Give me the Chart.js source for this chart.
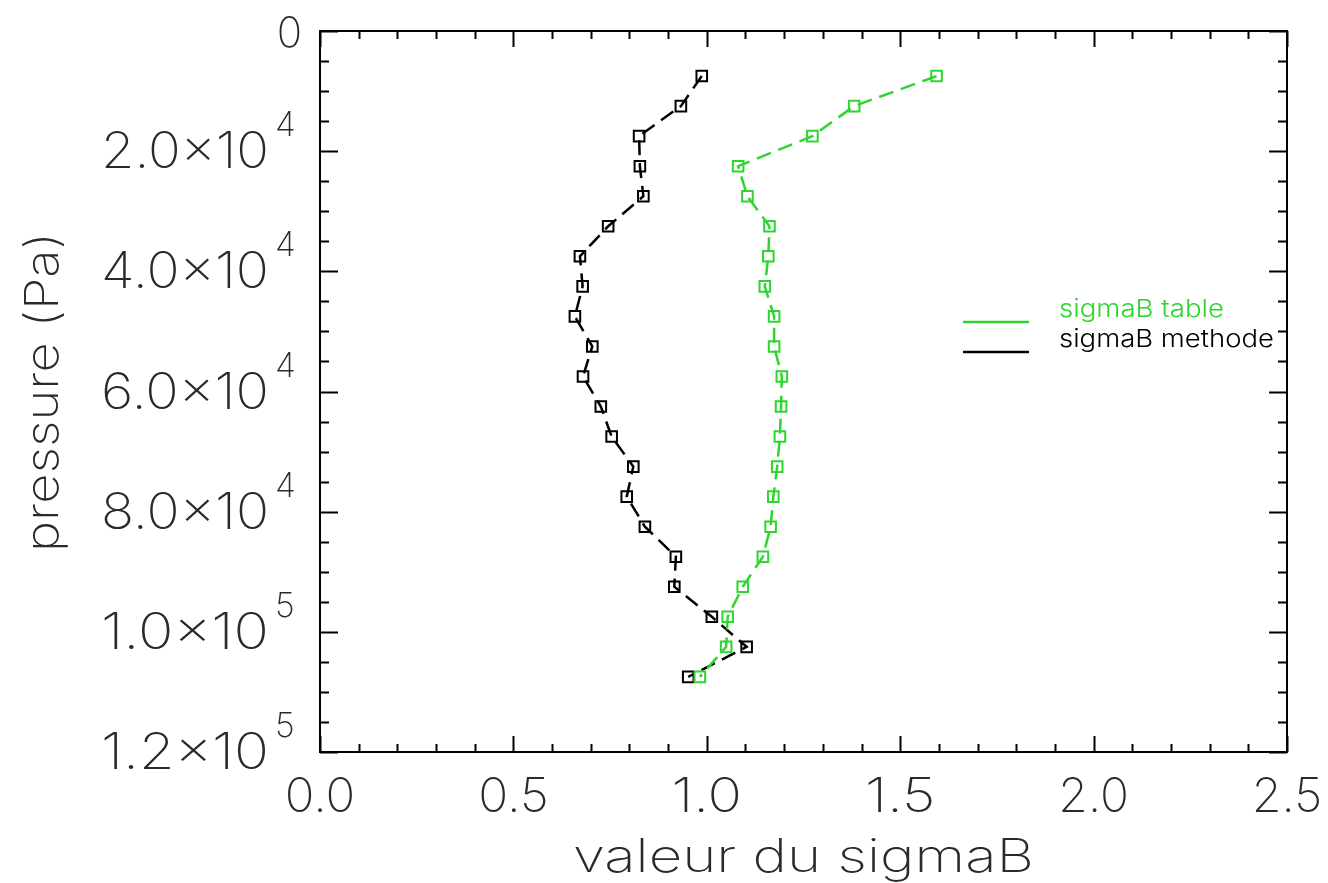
<!DOCTYPE html>
<html lang="fr">
<head>
    <meta charset="UTF-8">
    <title>valeur du sigmaB</title>
    <script src="https://cdn.jsdelivr.net/npm/chart.js@4.4.1/dist/chart.umd.min.js"></script>
    <style>
        body { margin: 0; background: #fff; }
        #wrap { width: 1328px; height: 883px; }
    </style>
</head>
<body>
<div id="wrap"><canvas id="chart" width="1328" height="883"></canvas></div>

<script>
    // pressure levels (Pa) and the two sigmaB profiles
    const pressure = [7500, 12500, 17500, 22500, 27500, 32500, 37500, 42500, 47500, 52500, 57500,
                      62500, 67500, 72500, 77500, 82500, 87500, 92500, 97500, 102500, 107500];
    const sigmaTable = [1.594, 1.381, 1.273, 1.081, 1.105, 1.162, 1.159, 1.150, 1.174, 1.174, 1.194,
                        1.192, 1.189, 1.182, 1.172, 1.165, 1.145, 1.093, 1.054, 1.050, 0.982];
    const sigmaMethode = [0.987, 0.933, 0.825, 0.827, 0.836, 0.745, 0.672, 0.679, 0.659, 0.704, 0.680,
                          0.726, 0.754, 0.810, 0.793, 0.840, 0.920, 0.916, 1.013, 1.103, 0.952];

    const seriesNames = ['sigmaB table', 'sigmaB methode'];
    const seriesColors = ['#2fd52f', '#000000'];

    // axes
    const xTicks = [0, 0.5, 1, 1.5, 2, 2.5];
    const xTickLabels = ['0.0', '0.5', '1.0', '1.5', '2.0', '2.5'];
    const yTicks = [0, 20000, 40000, 60000, 80000, 100000, 120000];
    const yTickMant = ['0', '2.0×10', '4.0×10', '6.0×10', '8.0×10', '1.0×10', '1.2×10'];
    const yTickExp = ['', '4', '4', '4', '4', '5', '5'];
    const xMinor = 0.1, yMinor = 5000;

    const FONT = '"Inter", "Lato", "Roboto", sans-serif';

    function drawText(ctx, str, x, y, size, align, width, weight) {
        ctx.font = `${weight || 200} ${size}px ${FONT}`;
        ctx.textAlign = align;
        ctx.textBaseline = 'alphabetic';
        if (width) {
            const w = ctx.measureText(str).width;
            ctx.save();
            ctx.translate(x, y);
            ctx.scale(width / w, 1);
            ctx.fillText(str, 0, 0);
            ctx.restore();
        } else {
            ctx.fillText(str, x, y);
        }
    }

    // frame, inward ticks, labels and legend, all placed with the chart's scales
    const framePlugin = {
        id: 'frame',
        afterDraw(chart) {
            const { ctx, chartArea: a } = chart;
            const xs = chart.scales.x, ys = chart.scales.y;
            ctx.save();
            ctx.strokeStyle = '#000';
            ctx.lineWidth = 2;
            ctx.strokeRect(a.left, a.top, a.right - a.left, a.bottom - a.top);

            ctx.beginPath();
            const nx = Math.round((xs.max - xs.min) / xMinor);
            for (let i = 0; i <= nx; i++) {
                const v = xs.min + i * xMinor;
                const px = Math.round(xs.getPixelForValue(v)) + 0.5;
                const len = i % 5 === 0 ? 16 : 8;
                ctx.moveTo(px, a.bottom); ctx.lineTo(px, a.bottom - len);
                ctx.moveTo(px, a.top); ctx.lineTo(px, a.top + len);
            }
            const ny = Math.round((ys.max - ys.min) / yMinor);
            for (let i = 0; i <= ny; i++) {
                const v = ys.min + i * yMinor;
                const py = Math.round(ys.getPixelForValue(v)) + 0.5;
                const len = i % 4 === 0 ? 18 : 9;
                ctx.moveTo(a.left, py); ctx.lineTo(a.left + len, py);
                ctx.moveTo(a.right, py); ctx.lineTo(a.right - len, py);
            }
            ctx.stroke();

            // tick labels
            ctx.fillStyle = '#2a2a2a';
            xTicks.forEach((v, i) => {
                drawText(ctx, xTickLabels[i], xs.getPixelForValue(v), 812, 48, 'center', xTickLabels[i].length * 23.5);
            });
            yTicks.forEach((v, i) => {
                const py = ys.getPixelForValue(v);
                if (!yTickExp[i]) {
                    drawText(ctx, yTickMant[i], 302, py + 16, 42, 'right');
                } else {
                    drawText(ctx, yTickMant[i], 269, py + 17, 50, 'right', 168);
                    drawText(ctx, yTickExp[i], 275, py - 15, 34, 'left');
                }
            });

            // axis titles
            drawText(ctx, 'valeur du sigmaB', (a.left + a.right) / 2, 872, 46, 'center', 461);
            ctx.save();
            ctx.translate(58, 392);
            ctx.rotate(-Math.PI / 2);
            drawText(ctx, 'pressure (Pa)', 0, 0, 46, 'center', 320);
            ctx.restore();

            // legend
            const legendWidths = [165, 215];
            chart.data.datasets.forEach((ds, i) => {
                const ly = 322 + i * 30;
                ctx.strokeStyle = ds.borderColor;
                ctx.lineWidth = 2.5;
                ctx.beginPath();
                ctx.moveTo(963, ly); ctx.lineTo(1029, ly);
                ctx.stroke();
                ctx.fillStyle = ds.borderColor;
                drawText(ctx, ds.label, 1059, ly - 5, 24, 'left', legendWidths[i], 350);
            });
            ctx.restore();
        }
    };

    function points(values) {
        return values.map((v, i) => ({ x: v, y: pressure[i] }));
    }

    const datasets = [sigmaTable, sigmaMethode].map((vals, i) => ({
        label: seriesNames[i],
        data: points(vals),
        showLine: true,
        borderColor: seriesColors[i],
        borderWidth: 2.5,
        borderDash: [15, 8],
        pointStyle: 'rect',
        pointRadius: 7.5,
        pointBorderWidth: 2,
        pointBorderColor: seriesColors[i],
        pointBackgroundColor: 'rgba(0,0,0,0)',
        tension: 0
    }));

    new Chart(document.getElementById('chart'), {
        type: 'scatter',
        data: { datasets: datasets },
        options: {
            responsive: false,
            animation: false,
            layout: { padding: { left: 320, right: 41, top: 31, bottom: 131 } },
            scales: {
                x: { type: 'linear', min: 0, max: 2.5, display: false },
                y: { type: 'linear', min: 0, max: 120000, reverse: true, display: false }
            },
            plugins: {
                legend: { display: false },
                tooltip: { enabled: false }
            }
        },
        plugins: [framePlugin]
    });
</script>
</body>
</html>
